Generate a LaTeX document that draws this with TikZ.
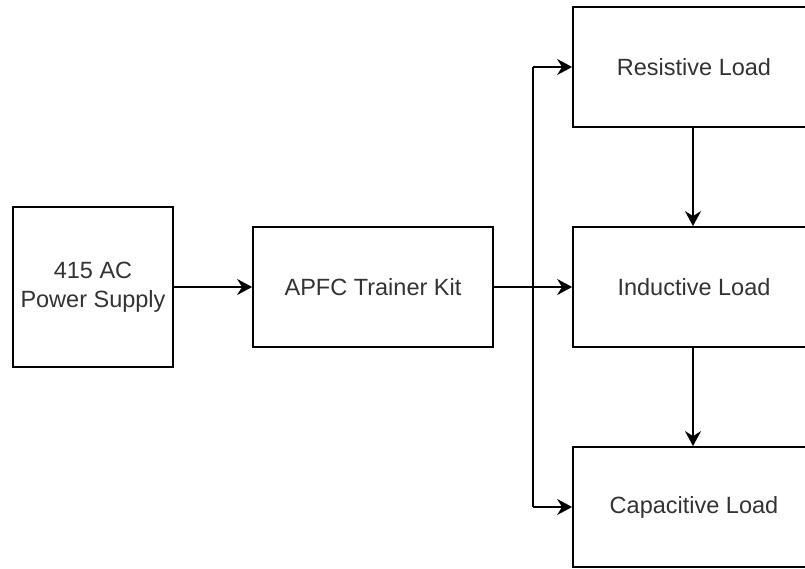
\documentclass[tikz,border=0pt]{standalone}
\usepackage{fontspec}
\setmainfont{Liberation Sans}
\usetikzlibrary{arrows.meta}
\begin{document}
\begin{tikzpicture}[x=1pt,y=-1pt,
  blk/.style={draw=black, line width=1.8pt, fill=white, inner sep=0pt,
    font=\fontsize{23.5}{29}\selectfont, text=black!80, align=center},
  conn/.style={draw=black, line width=1.8pt,
    -{Stealth[length=15pt,width=16pt,inset=5pt]}},
  wire/.style={draw=black, line width=1.8pt}]
\useasboundingbox (0,0) rectangle (805,569);
\clip (0,0) rectangle (805,569);

% blocks (right-hand column runs past the page edge)
\node[blk, minimum width=160pt, minimum height=160pt] (src) at (93,287) {415 AC\\Power Supply};
\node[blk, minimum width=240pt, minimum height=120pt] (kit) at (373,287) {APFC Trainer Kit};
\node[blk, minimum width=240pt, minimum height=120pt] (res) at (693,67) {};
\node[blk, minimum width=240pt, minimum height=120pt] (ind) at (693,287) {};
\node[blk, minimum width=240pt, minimum height=120pt] (cap) at (693,507) {};
\node[blk, draw=none, fill=none] (restxt) at (694,67) {Resistive Load};
\node[blk, draw=none, fill=none] (indtxt) at (694,287) {Inductive Load};
\node[blk, draw=none, fill=none] (captxt) at (694,507) {Capacitive Load};

% branch point for the three loads
\coordinate (br) at (533,287);
\coordinate (brtop) at (533,67);
\coordinate (brbot) at (533,507);

\draw[conn] (src.east) -- (kit.west);
\draw[wire] (kit.east) -- (br);
\draw[conn] (br) -- (ind.west);
\draw[wire] (brbot) -- (brtop);
\draw[conn] (brtop) -- (res.west);
\draw[conn] (brbot) -- (cap.west);

\draw[conn] (res.south) -- (ind.north);
\draw[conn] (ind.south) -- (cap.north);
\end{tikzpicture}
\end{document}
